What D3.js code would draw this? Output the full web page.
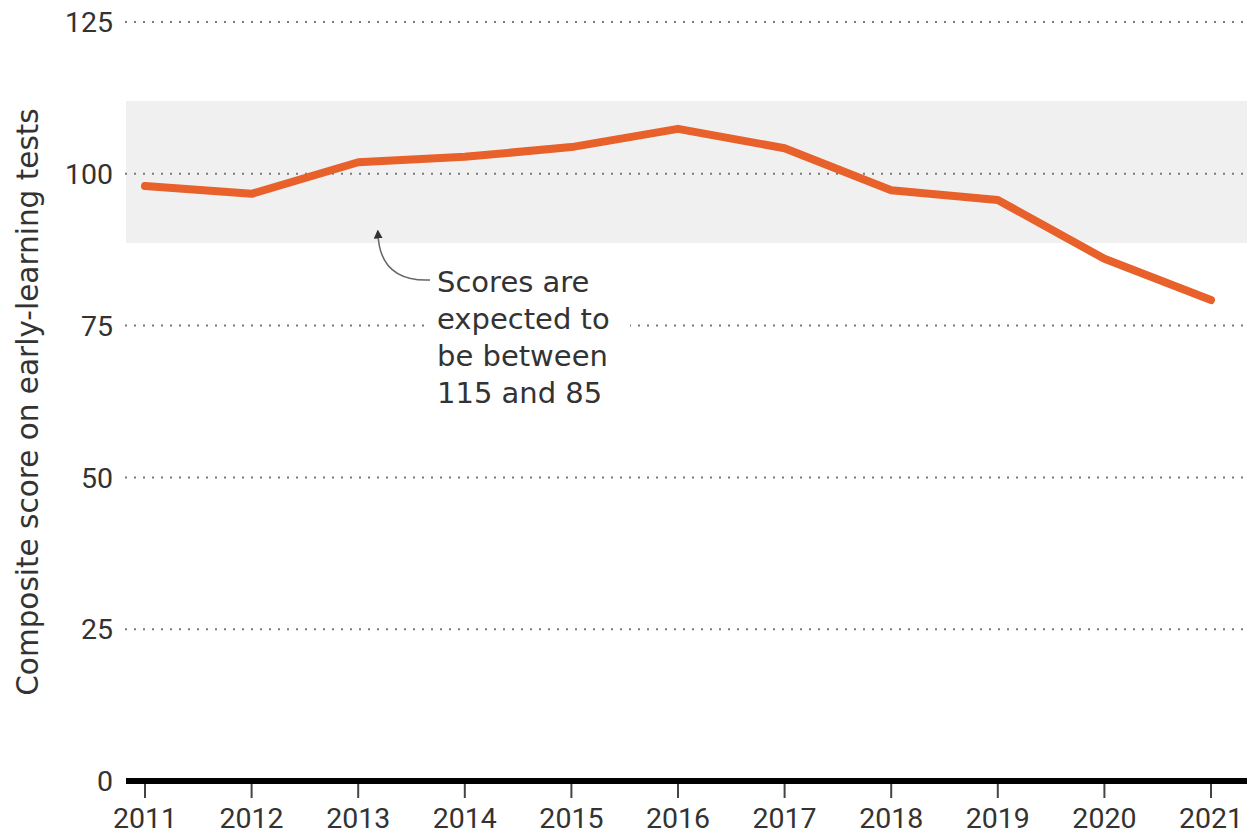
<!DOCTYPE html>
<html><head><meta charset="utf-8">
<script src="https://cdn.jsdelivr.net/npm/d3@7"></script>
<style>html,body{margin:0;padding:0;background:#fff}svg{display:block}</style>
</head><body>
<script>
const years = [2011,2012,2013,2014,2015,2016,2017,2018,2019,2020,2021];
const scores = [98.0,96.7,101.9,102.8,104.4,107.4,104.2,97.3,95.7,86.0,79.2];
const yTicks = [0,25,50,75,100,125];
const band = [88.6,112];
const yTitle = "Composite score on early-learning tests";
const noteLines = ["Scores are","expected to","be between","115 and 85"];

const W=1254,H=835;
const font="Roboto, 'Liberation Sans', sans-serif";
const tfont="'DejaVu Sans', sans-serif";
const svg=d3.select("body").append("svg").attr("width",W).attr("height",H);
const x=d3.scaleLinear().domain([2011,2021]).range([145,1211]);
const y=d3.scaleLinear().domain([0,125]).range([781,22]);
const left=125,right=1247;

// band
svg.append("rect").attr("x",left+1).attr("width",right-left-1)
  .attr("y",y(band[1])).attr("height",y(band[0])-y(band[1])).attr("fill","#f0f0f0");

// gridlines
svg.append("g").selectAll("line").data(yTicks.filter(d=>d>0)).join("line")
  .attr("x1",left).attr("x2",right).attr("y1",d=>y(d)).attr("y2",d=>y(d))
  .attr("stroke","#7a7a7a").attr("stroke-width",2).attr("stroke-dasharray","2 7");

// y labels
svg.append("g").selectAll("text").data(yTicks).join("text")
  .attr("x",113).attr("y",d=>y(d)).attr("dy","0.36em").attr("text-anchor","end")
  .attr("font-family",font).attr("font-size",28.5).attr("fill","#333").text(d=>d);

// y title
svg.append("text").attr("transform","translate(38,402) rotate(-90)")
  .attr("text-anchor","middle").attr("font-family",tfont).attr("font-size",29.5)
  .attr("fill","#333").text(yTitle);

// annotation bg
svg.append("rect").attr("x",425).attr("y",262).attr("width",205).attr("height",150).attr("fill","#fff");
const t=svg.append("text").attr("font-family",tfont).attr("font-size",29).attr("fill","#333");
noteLines.forEach((l,i)=>t.append("tspan").attr("x",437).attr("y",292+i*37).text(l));

// arrow
svg.append("defs").append("marker").attr("id","ah").attr("viewBox","0 0 10 10")
  .attr("refX",5).attr("refY",5).attr("markerWidth",6).attr("markerHeight",6).attr("orient","auto")
  .append("path").attr("d","M0,0L10,5L0,10z").attr("fill","#333");
svg.append("path").attr("d","M430,280 Q380,282 378,234").attr("fill","none")
  .attr("stroke","#666").attr("stroke-width",1.5).attr("marker-end","url(#ah)");

// line
svg.append("path").datum(years.map((d,i)=>[d,scores[i]]))
  .attr("d",d3.line().x(d=>x(d[0])).y(d=>y(d[1])))
  .attr("fill","none").attr("stroke","#e8602a").attr("stroke-width",8)
  .attr("stroke-linecap","round").attr("stroke-linejoin","round");

// x axis
svg.append("g").selectAll("line").data(years).join("line")
  .attr("x1",d=>x(d)).attr("x2",d=>x(d)).attr("y1",781).attr("y2",798)
  .attr("stroke","#444").attr("stroke-width",2);
svg.append("line").attr("x1",left+1).attr("x2",right).attr("y1",781).attr("y2",781)
  .attr("stroke","#000").attr("stroke-width",6);
svg.append("g").selectAll("text").data(years).join("text")
  .attr("x",d=>x(d)).attr("y",828).attr("text-anchor","middle")
  .attr("font-family",font).attr("font-size",28.5).attr("fill","#333").text(d=>d);
</script>
</body></html>
